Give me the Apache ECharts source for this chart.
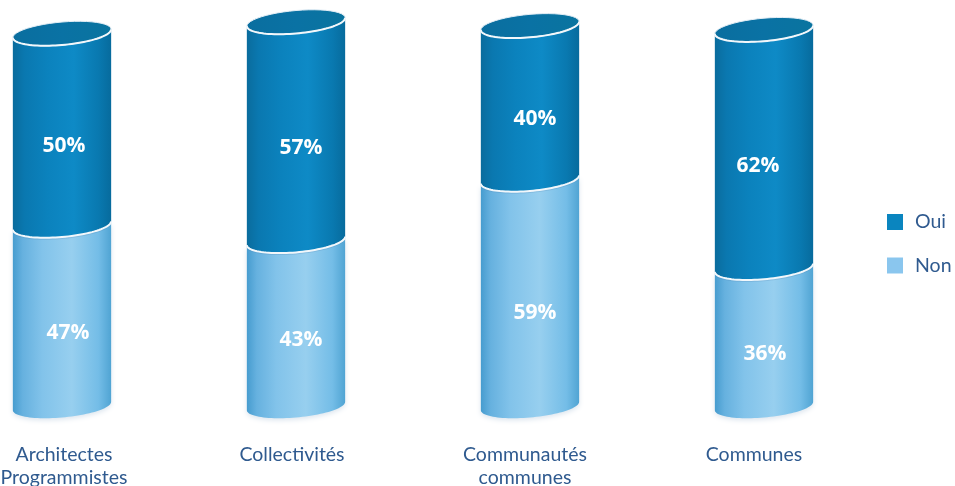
<!DOCTYPE html>
<html><head><meta charset="utf-8">
<style>html,body{margin:0;padding:0;background:#fff}#c{width:955px;height:486px}</style>
<script src="https://cdn.jsdelivr.net/npm/echarts@6/dist/echarts.min.js"></script>
</head><body><div id="c"></div>
<script>
const categories = ['Architectes\nProgrammistes', 'Collectivités', 'Communautés\ncommunes', 'Communes'];
const oui = [50, 57, 40, 62];
const non = [47, 43, 59, 36];

// hand placement of the text, which sits off-centre in the reference
const axisLabelShift = [2, -4, -5, -10];
const ouiLabelShift = [[2, 16], [5, 17], [5, 16], [-6, 17]];
const nonLabelShift = [[6, 17], [5, 17], [5, 20], [1, 17]];

const G = (stops) => new echarts.graphic.LinearGradient(0, 0, 1, 0, stops.map((c) => ({offset: c[0], color: c[1]})));
const ouiStops = [[0,'#0a6c9d'],[0.12,'#0a78b0'],[0.35,'#0b82bd'],[0.62,'#0e8ac6'],[0.87,'#0979b0'],[1,'#076b9d']];
const nonStops = [[0,'#469ccf'],[0.1,'#66b1df'],[0.3,'#82c3ea'],[0.6,'#97cfef'],[0.87,'#74bde7'],[1,'#50a4d3']];
const capStops = [[0,'#0a6e9f'],[0.5,'#0a72a4'],[1,'#0a749f']];

function arc(cx, cy, a, b, k, from, to) {
  const pts = [];
  const n = 48;
  for (let i = 0; i <= n; i++) {
    const t = from + (to - from) * i / n;
    const dx = a * Math.cos(t);
    pts.push([cx + dx, cy + b * Math.sin(t) - dx * k]);
  }
  return pts;
}

function render(stops, lower, upper, isTop, shift) {
  return function (params, api) {
    const i = api.value(0);
    const lo = lower(i), hi = upper(i);
    const p0 = api.coord([i, lo]);
    const p1 = api.coord([i, hi]);
    const w = api.size([1, 0])[0] * 0.42;
    const a = w / 2, b = 11.5, k = 0.085;
    const cx = p0[0];
    const front0 = arc(cx, p0[1], a, b, k, 0, Math.PI);
    const front1 = arc(cx, p1[1], a, b, k, Math.PI, 0);
    const children = [{
      type: 'polygon',
      shape: {points: front1.concat(front0)},
      style: {fill: G(stops), shadowBlur: isTop ? 0 : 5, shadowColor: 'rgba(60,110,160,0.18)', shadowOffsetY: 2}
    }];
    if (isTop) {
      children.push({
        type: 'polygon',
        shape: {points: arc(cx, p1[1], a, b, k, 0, Math.PI * 2)},
        style: {fill: G(capStops), stroke: '#e4eef6', lineWidth: 1}
      });
      children.push({
        type: 'polyline',
        shape: {points: arc(cx, p1[1], a, b, k, 0, Math.PI)},
        style: {stroke: '#f2f7fb', lineWidth: 2, fill: null}
      });
      children.push({
        type: 'polyline',
        shape: {points: arc(cx, p0[1], a, b, k, 0, Math.PI)},
        style: {stroke: '#f2f7fb', lineWidth: 2, fill: null}
      });
    }
    children.push({
      type: 'text',
      style: {
        text: (hi - lo) + '%', x: cx + shift[i][0], y: (p0[1] + p1[1]) / 2 + shift[i][1],
        fill: '#fff', align: 'center', verticalAlign: 'middle',
        font: 'bold 21px "Open Sans", sans-serif'
      }
    });
    return {type: 'group', children};
  };
}

const chart = echarts.init(document.getElementById('c'), null, {renderer: 'canvas'});
chart.setOption({
  animation: false,
  backgroundColor: '#fff',
  grid: {left: -55, right: 74, top: 22, bottom: 80, outerBoundsMode: 'none', containLabel: false},
  xAxis: {
    type: 'category',
    data: categories.map((c, i) => ({
      value: c,
      textStyle: {padding: [0, Math.max(0, -2 * axisLabelShift[i]), 0, Math.max(0, 2 * axisLabelShift[i])]}
    })),
    axisLine: {show: false}, axisTick: {show: false},
    axisLabel: {margin: 37, color: '#2f5a8f', fontFamily: 'Lato', fontSize: 19.5, lineHeight: 23, interval: 0}
  },
  yAxis: {type: 'value', min: 0, max: 100, show: false},
  legend: {
    data: ['Oui', 'Non'], orient: 'vertical', left: 882, top: 207,
    itemWidth: 16, itemHeight: 16, itemGap: 23.5, icon: 'rect',
    textStyle: {color: '#2f5a8f', fontFamily: 'Lato', fontSize: 19.5, padding: [0, 0, 0, 7]}
  },
  series: [
    {
      name: 'Non', type: 'custom', z: 2, clip: false,
      itemStyle: {color: '#8ac6ee'},
      data: categories.map((c, i) => [i, non[i]]),
      renderItem: render(nonStops, () => 0, i => non[i], false, nonLabelShift)
    },
    {
      name: 'Oui', type: 'custom', z: 3, clip: false,
      itemStyle: {color: '#0a85bf'},
      data: categories.map((c, i) => [i, non[i] + oui[i]]),
      renderItem: render(ouiStops, i => non[i], i => non[i] + oui[i], true, ouiLabelShift)
    }
  ]
});
</script></body></html>
